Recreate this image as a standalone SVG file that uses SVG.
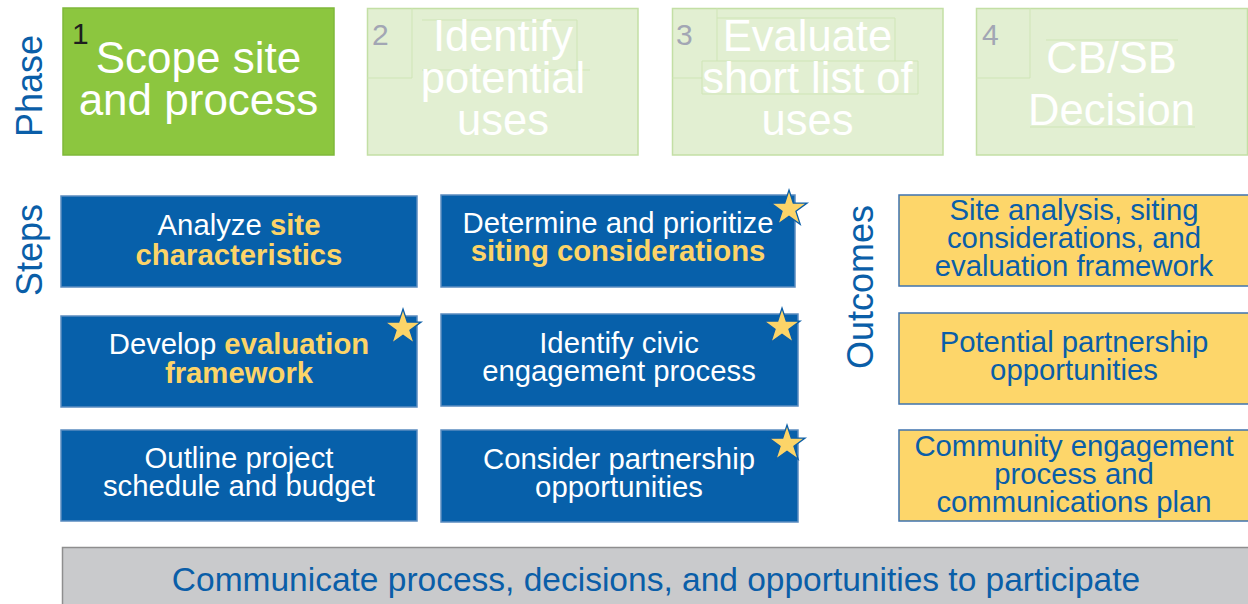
<svg xmlns="http://www.w3.org/2000/svg" width="1248" height="604" viewBox="0 0 1248 604">
<style>
text{font-family:"Liberation Sans",Arial,sans-serif}
.lbl{font-size:36px;fill:#0a5ea8;text-anchor:middle}
.ph{font-size:43.5px;fill:#ffffff;text-anchor:middle}
.num{font-size:30px}
.step{fill:#0760aa;stroke:#5b8cc0;stroke-width:1.5}
.st{font-size:29.3px;fill:#ffffff;text-anchor:middle}
.y{fill:#fcd468;font-weight:bold}
.out{fill:#fdd66a;stroke:#3f73ae;stroke-width:1.5}
.ot{font-size:29.3px;fill:#0a5ea8;text-anchor:middle}
.pale{fill:#e2efd2;stroke:#c3dfa5;stroke-width:1.5}
.faint{fill:none;stroke:#cfe5b6;stroke-width:1}
.star{fill:#fcd468;stroke:#0a5ea8;stroke-width:1.3;stroke-linejoin:miter}
</style>
<defs>
<polygon id="star" points="0,-19 4.29,-5.91 18.07,-5.87 6.94,2.26 11.17,15.37 0,7.3 -11.17,15.37 -6.94,2.26 -18.07,-5.87 -4.29,-5.91"/>
</defs>

<g id="labels">
<text class="lbl" transform="translate(42,86) rotate(-90)">Phase</text>
<text class="lbl" transform="translate(42,250) rotate(-90)">Steps</text>
<text class="lbl" transform="translate(873,287) rotate(-90)">Outcomes</text>
</g>

<g id="phase1">
<rect x="63" y="8" width="271" height="147" fill="#8cc63f" stroke="#7fb83a" stroke-width="1.5"/>
<text class="num" x="72" y="44" fill="#1e1e1e">1</text>
<text class="ph" style="font-size:44px" x="198.5" y="73">Scope site</text>
<text class="ph" style="font-size:44px" x="198.5" y="115">and process</text>
</g>

<g id="phase2">
<rect class="pale" x="367.5" y="8.5" width="270.5" height="146.5"/>
<path class="faint" d="M367.5 78H412V8.5M422 70H590M422 20H577V70"/>
<text class="num" x="372" y="45" fill="#a2a6b4">2</text>
<text class="ph" x="503" y="51">Identify</text>
<text class="ph" x="503" y="93">potential</text>
<text class="ph" x="503" y="135">uses</text>
</g>

<g id="phase3">
<rect class="pale" x="672.5" y="8.5" width="270.5" height="146.5"/>
<path class="faint" d="M672.5 78H702M717 8.5V61M717 18H895V61M702 61H918V94H702Z"/>
<text class="num" x="676" y="45" fill="#a2a6b4">3</text>
<text class="ph" x="807.5" y="51">Evaluate</text>
<text class="ph" x="807.5" y="93">short list of</text>
<text class="ph" x="807.5" y="135">uses</text>
</g>

<g id="phase4">
<rect class="pale" x="976.5" y="8.5" width="271" height="146.5"/>
<path class="faint" d="M976.5 78H1030V8.5M1046 40H1178M1030 127H1195"/>
<text class="num" x="982" y="45" fill="#a2a6b4">4</text>
<text class="ph" x="1111.5" y="73">CB/SB</text>
<text class="ph" x="1111.5" y="125">Decision</text>
</g>

<g id="step-analyze">
<rect class="step" x="61" y="196" width="356" height="91"/>
<text class="st" x="239" y="235">Analyze <tspan class="y">site</tspan></text>
<text class="st y" x="239" y="265">characteristics</text>
</g>

<g id="step-develop">
<rect class="step" x="61" y="316" width="356" height="91"/>
<text class="st" x="239" y="354">Develop <tspan class="y">evaluation</tspan></text>
<text class="st y" x="239" y="383">framework</text>
<use href="#star" class="star" transform="translate(403,328)"/>
</g>

<g id="step-outline">
<rect class="step" x="61" y="430" width="356" height="91"/>
<text class="st" x="239" y="468">Outline project</text>
<text class="st" x="239" y="496">schedule and budget</text>
</g>

<g id="step-determine">
<rect class="step" x="441" y="195" width="354" height="92"/>
<text class="st" x="618" y="233">Determine and prioritize</text>
<text class="st y" x="618" y="261">siting considerations</text>
<use href="#star" class="star" transform="translate(789,209)"/>
</g>

<g id="step-civic">
<rect class="step" x="441" y="314" width="357" height="92"/>
<text class="st" x="619" y="353">Identify civic</text>
<text class="st" x="619" y="381">engagement process</text>
<use href="#star" class="star" transform="translate(782,327)"/>
</g>

<g id="step-partnership">
<rect class="step" x="441" y="430" width="357" height="92"/>
<text class="st" x="619" y="469">Consider partnership</text>
<text class="st" x="619" y="497">opportunities</text>
<use href="#star" class="star" transform="translate(787,444)"/>
</g>

<g id="outcome-site">
<rect class="out" x="899" y="195" width="352" height="91"/>
<text class="ot" x="1074" y="220">Site analysis, siting</text>
<text class="ot" x="1074" y="248">considerations, and</text>
<text class="ot" x="1074" y="276">evaluation framework</text>
</g>

<g id="outcome-partnership">
<rect class="out" x="899" y="313" width="352" height="91"/>
<text class="ot" x="1074" y="352">Potential partnership</text>
<text class="ot" x="1074" y="380">opportunities</text>
</g>

<g id="outcome-community">
<rect class="out" x="899" y="430" width="352" height="91"/>
<text class="ot" x="1074" y="456">Community engagement</text>
<text class="ot" x="1074" y="484">process and</text>
<text class="ot" x="1074" y="512">communications plan</text>
</g>

<g id="communicate">
<rect x="62.5" y="547.5" width="1190" height="60" fill="#c9cacc" stroke="#8e8e8e" stroke-width="1.5"/>
<text x="656" y="591" font-size="33.5" fill="#0a5ea8" text-anchor="middle">Communicate process, decisions, and opportunities to participate</text>
</g>

<g id="connectors"></g>
</svg>
